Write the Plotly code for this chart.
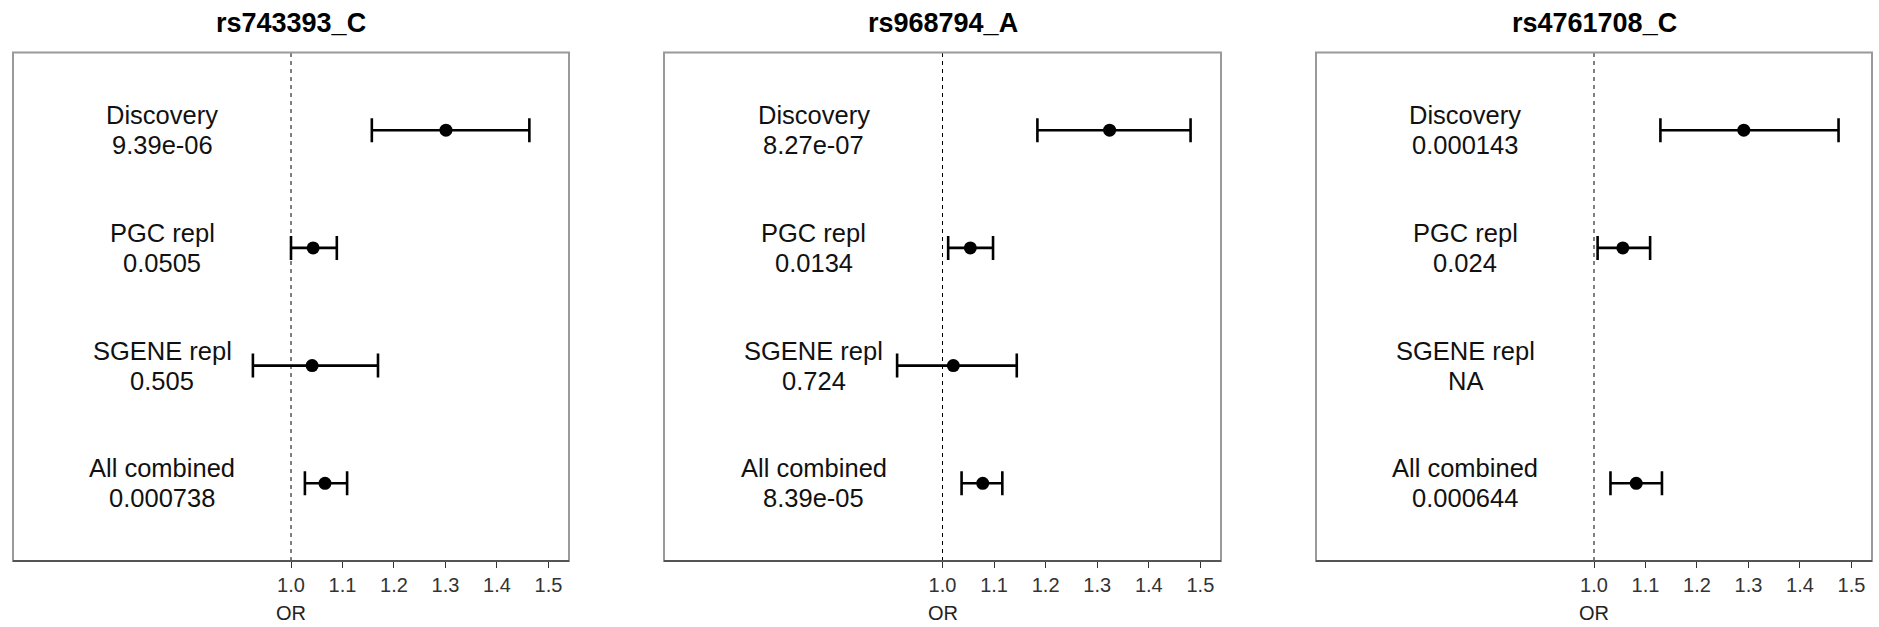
import plotly.graph_objects as go

# ---------------- data ----------------
snps = ["rs743393_C", "rs968794_A", "rs4761708_C"]
studies = ["Discovery", "PGC repl", "SGENE repl", "All combined"]
row_pos = [4, 3, 2, 1]

or_rs743393 = [1.301, 1.043, 1.041, 1.066]
lo_rs743393 = [1.157, 1.000, 0.926, 1.027]
hi_rs743393 = [1.463, 1.089, 1.169, 1.109]
p_rs743393 = ["9.39e-06", "0.0505", "0.505", "0.000738"]

or_rs968794 = [1.324, 1.054, 1.021, 1.078]
lo_rs968794 = [1.184, 1.011, 0.912, 1.037]
hi_rs968794 = [1.481, 1.098, 1.144, 1.116]
p_rs968794 = ["8.27e-07", "0.0134", "0.724", "8.39e-05"]

or_rs4761708 = [1.291, 1.056, None, 1.082]
lo_rs4761708 = [1.129, 1.007, None, 1.032]
hi_rs4761708 = [1.475, 1.109, None, 1.132]
p_rs4761708 = ["0.000143", "0.024", "NA", "0.000644"]

tick_vals = [1.0, 1.1, 1.2, 1.3, 1.4, 1.5]
tick_text = ["1.0", "1.1", "1.2", "1.3", "1.4", "1.5"]

panels = [
    (or_rs743393, lo_rs743393, hi_rs743393, p_rs743393),
    (or_rs968794, lo_rs968794, hi_rs968794, p_rs968794),
    (or_rs4761708, lo_rs4761708, hi_rs4761708, p_rs4761708),
]

# ---------------- layout geometry ----------------
W, H = 1879, 627
x_domains = [(13, 569), (664, 1221), (1316, 1872)]
y_top, y_bot = 52.5, 561
x_range = [0.46, 1.54]
y_range = [0.34, 4.66]
FONT = "Liberation Sans, Arial, Helvetica, sans-serif"

fig = go.Figure()
annotations = []
shapes = []

for i, (ors, los, his, ps) in enumerate(panels):
    sfx = "" if i == 0 else str(i + 1)
    xref, yref = "x" + sfx, "y" + sfx
    xs, ys, ep, em = [], [], [], []
    for o, l, h, r in zip(ors, los, his, row_pos):
        if o is None:
            continue
        xs.append(o)
        ys.append(r)
        ep.append(h - o)
        em.append(o - l)
    fig.add_trace(go.Scatter(
        x=xs, y=ys, mode="markers", xaxis=xref, yaxis=yref,
        marker=dict(color="black", size=13),
        error_x=dict(type="data", symmetric=False, array=ep, arrayminus=em,
                     color="black", thickness=2.6, width=12),
        showlegend=False, hoverinfo="x+y",
    ))
    # labels (two lines, 30 px apart)
    for name, p, r in zip(studies, ps, row_pos):
        for txt, shift in ((name, 15), (p, -15)):
            annotations.append(dict(
                x=0.75, y=r, xref=xref, yref=yref, text=txt, yshift=shift,
                showarrow=False, xanchor="center", yanchor="middle",
                font=dict(family=FONT, size=25.5, color="#111"),
            ))
    # title
    annotations.append(dict(
        x=0.5, y=1 - 23 / H, xref=xref + " domain", yref="paper",
        text=f"<b>{snps[i]}</b>", showarrow=False, xanchor="center", yanchor="middle",
        font=dict(family=FONT, size=27, color="black"),
    ))
    # OR label
    annotations.append(dict(
        x=1.0, y=1 - 613 / H, xref=xref, yref="paper", text="OR",
        showarrow=False, xanchor="center", yanchor="middle",
        font=dict(family=FONT, size=20, color="#222"),
    ))
    # dashed reference line
    shapes.append(dict(type="line", xref=xref, yref=yref + " domain",
                       x0=1.0, x1=1.0, y0=0, y1=1,
                       line=dict(color="black", width=1, dash="4px,4px")))
    # box
    shapes.append(dict(type="rect", xref=xref + " domain", yref=yref + " domain",
                       x0=0, x1=1, y0=0, y1=1,
                       line=dict(color="#9a9a9a", width=2)))
    shapes.append(dict(type="line", xref=xref + " domain", yref=yref + " domain",
                       x0=0, x1=1, y0=0, y1=0,
                       line=dict(color="#555", width=2)))

    x0, x1 = x_domains[i]
    fig.layout["xaxis" + sfx] = dict(
        domain=[x0 / W, x1 / W], range=x_range, anchor=yref,
        tickvals=tick_vals, ticktext=tick_text, ticks="outside", ticklen=6,
        tickwidth=1, tickcolor="#333", showgrid=False, zeroline=False,
        showline=False, tickfont=dict(family=FONT, size=20, color="#333"),
        fixedrange=True,
    )
    fig.layout["yaxis" + sfx] = dict(
        domain=[1 - y_bot / H, 1 - y_top / H], range=y_range, anchor=xref,
        showticklabels=False, ticks="", showgrid=False, zeroline=False,
        showline=False, fixedrange=True,
    )

fig.update_layout(
    width=W, height=H, margin=dict(l=0, r=0, t=0, b=0),
    paper_bgcolor="white", plot_bgcolor="white",
    annotations=annotations, shapes=shapes, showlegend=False,
)

fig.write_html("out.html", config={"displayModeBar": False},
               post_script="document.body.style.margin='0';")
